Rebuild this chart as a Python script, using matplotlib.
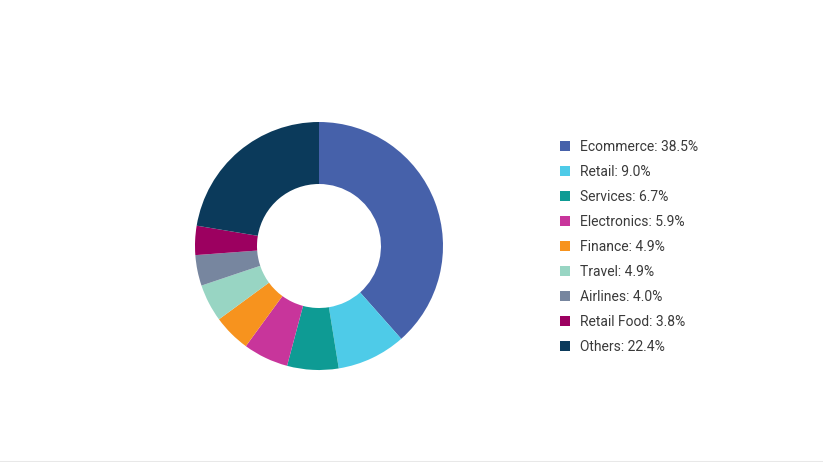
import matplotlib
matplotlib.use("Agg")
import matplotlib.pyplot as plt
from matplotlib.lines import Line2D

plt.rcParams['font.family'] = ['Roboto', 'DejaVu Sans']

# donnees
categories = ["Ecommerce", "Retail", "Services", "Electronics", "Finance",
              "Travel", "Airlines", "Retail Food", "Others"]
shares = [38.5, 9.0, 6.7, 5.9, 4.9, 4.9, 4.0, 3.8, 22.4]
colors = ["#4661aa", "#4ecbe8", "#0e9b94", "#c8359b", "#f7931e",
          "#98d5c3", "#77869f", "#9c0060", "#0b3a5b"]

W, H = 823, 462
fig = plt.figure(figsize=(W / 100, H / 100), dpi=100)

# axe du donut : centre (319, 246) px, rayon 124 px
cx, cy, r = 319, 246, 124
ax = fig.add_axes([(cx - r) / W, (H - cy - r) / H, 2 * r / W, 2 * r / H])
ax.pie(shares, colors=colors, startangle=90, counterclock=False,
       radius=1, wedgeprops=dict(width=0.5, linewidth=0))
ax.set_xlim(-1, 1)
ax.set_ylim(-1, 1)
ax.set_aspect('equal')
ax.axis('off')

handles = [Line2D([0], [0], marker='s', linestyle='none', markersize=7,
                  markerfacecolor=c, markeredgewidth=0) for c in colors]
labels = ["%s: %.1f%%" % (c, s) for c, s in zip(categories, shares)]
leg = fig.legend(handles, labels, loc='upper left',
                 bbox_to_anchor=(559 / W, 1 - 140 / H),
                 frameon=False, fontsize=10, labelspacing=0.79,
                 handlelength=0.8, handletextpad=0.7, borderpad=0,
                 borderaxespad=0, labelcolor='#3a3a3a')

# filet gris en bas
fig.add_artist(Line2D([0, 1], [0.5 / H, 0.5 / H], color='#e8e8e8', lw=1.5))

fig.savefig("out.png", dpi=100, facecolor='white')
